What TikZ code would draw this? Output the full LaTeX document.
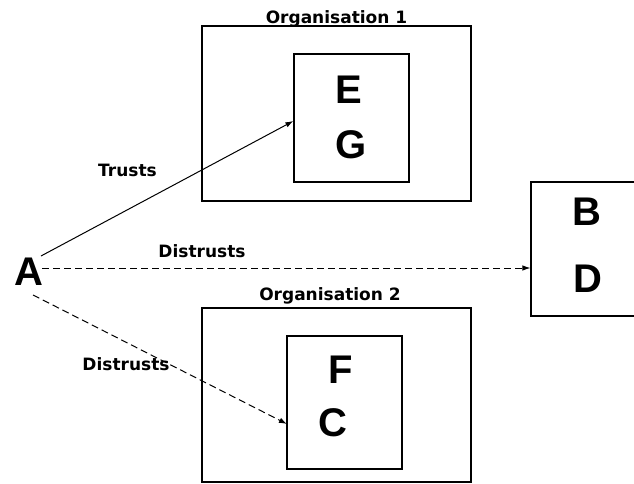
\documentclass[tikz,border=0pt]{standalone}
\usepackage{fontspec}
\newfontfamily\labfont{DejaVu Sans}
\newfontfamily\letfont{Liberation Sans}
\usetikzlibrary{arrows.meta,calc}
\begin{document}
\begin{tikzpicture}[x=1pt,y=-1pt,
  box/.style={draw=black,line width=1.1pt,rectangle,inner sep=0pt},
  lab/.style={font=\labfont\bfseries\fontsize{17}{17}\selectfont,anchor=base,inner sep=0pt},
  letter/.style={font=\letfont\bfseries\fontsize{40}{40}\selectfont,anchor=base,inner sep=0pt},
  conn/.style={line width=1pt,-{Latex[length=8pt,width=5.5pt]}},
  dconn/.style={conn,dash pattern=on 7pt off 4pt}]
\useasboundingbox (0,0) rectangle (634,484);
% boxes
\node[box,minimum width=269pt,minimum height=175pt] (org1) at (336.5,113.5) {};
\node[box,minimum width=115pt,minimum height=128pt] (in1) at (351.5,118) {};
\node[box,minimum width=269pt,minimum height=174pt] (org2) at (336.5,395) {};
\node[box,minimum width=115pt,minimum height=133pt] (in2) at (344.5,402.5) {};
\node[box,minimum width=118pt,minimum height=134pt] (bd) at (590,249) {};
% titles
\node[lab] (t1) at (336.5,24) {Organisation 1};
\node[lab] (t2) at (330,300) {Organisation 2};
% letters
\node[letter] (A) at (29,285) {A};
\node[letter] (E) at (349,103) {E};
\node[letter] (G) at (351,158) {G};
\node[letter] (F) at (340.5,383) {F};
\node[letter] (C) at (333,436) {C};
\node[letter] (B) at (587,225) {B};
\node[letter] (D) at (588,292) {D};
% connectors
\coordinate (s1) at (41,256);
\coordinate (s2) at (42,268);
\coordinate (s3) at (33,295);
\coordinate (e3) at (287,424);
\draw[conn] (s1) -- ($(in1.west)+(0,3)$);
\draw[dconn] (s2) -- (bd.west |- s2);
\draw[dconn] (s3) -- (e3);
% labels
\node[lab] (l1) at (127.5,176) {Trusts};
\node[lab] (l2) at (202,257) {Distrusts};
\node[lab] (l3) at (126,370) {Distrusts};
\end{tikzpicture}
\end{document}
